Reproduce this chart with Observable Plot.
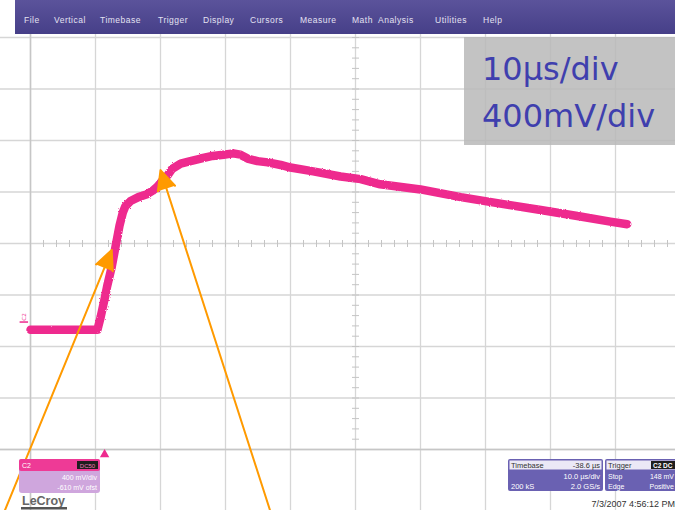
<!DOCTYPE html>
<html>
<head>
<meta charset="utf-8">
<script src="https://cdn.jsdelivr.net/npm/d3@7"></script>
<script src="https://cdn.jsdelivr.net/npm/@observablehq/plot@0.6"></script>
<style>
  html, body { margin: 0; padding: 0; background: #fff; }
  #scope { width: 675px; height: 510px; overflow: hidden; }
  #scope svg { display: block; }
</style>
</head>
<body>
<div id="scope"></div>
<script>
// Channel C2 acquisition settings
const VOLTS_PER_DIV = 0.4;   // V / division
const US_PER_DIV = 10;       // µs / division
const CENTER_V = 0.61;       // screen centre, volts above ground
const TRIGGER_US = 11.4;     // trigger position, µs from left of screen

// Captured waveform (time from left edge of screen in µs, volts above ground)
const timeUs = [0, 4.6, 10.3, 10.8, 11.4, 11.8, 12.5, 13.1, 13.7, 14.2, 14.6, 15.4, 16.6, 17.8,
  18.8, 19.5, 20.3, 21.1, 21.8, 23.1, 24.6, 26.2, 28.0, 29.7, 31.2, 32.3, 33.4, 34.9, 36.5,
  38.5, 40.0, 43.5, 47.7, 50.8, 53.8, 60.0, 66.2, 72.3, 78.5, 84.6, 89.2, 91.8];
const volts = [-0.06, -0.06, -0.06, 0.04, 0.18, 0.28, 0.43, 0.59, 0.75, 0.85, 0.90, 0.94, 0.97, 0.99,
  1.02, 1.05, 1.10, 1.14, 1.19, 1.23, 1.25, 1.27, 1.29, 1.30, 1.31, 1.30, 1.27, 1.25, 1.24,
  1.22, 1.20, 1.17, 1.13, 1.11, 1.07, 1.03, 0.97, 0.92, 0.87, 0.82, 0.78, 0.76];

// Annotation arrows pointing at the two corners of the rising edge
const arrowFromUs = [-4.0, 36.9];
const arrowFromV = [-1.47, -1.47];
const arrowToUs = [12.5, 20.0];
const arrowToV = [0.56, 1.18];

// Screen text
const menuItems = ["File", "Vertical", "Timebase", "Trigger", "Display", "Cursors", "Measure", "Math", "Analysis", "Utilities", "Help"];
const menuX = [24, 54, 100, 158, 203, 250, 300, 352, 378, 435, 483];
const scaleLabels = ["10\u03bcs/div", "400mV/div"];

const trace = timeUs.map((t, i) => ({t, v: volts[i]}));
const arrows = arrowFromUs.map((t, i) => ({t1: t, v1: arrowFromV[i], t2: arrowToUs[i], v2: arrowToV[i]}));

// Graticule: 10 x 8 divisions, minor ticks every 1/5 division on the centre lines
const xDiv = d3.range(0, 11).map(k => k * US_PER_DIV);
const yDiv = d3.range(-4, 5).map(k => CENTER_V + k * VOLTS_PER_DIV);
const xMinor = d3.range(0, 50.5).map(k => k * US_PER_DIV / 5);
const yMinor = d3.range(-20, 20.5).map(k => CENTER_V + k * VOLTS_PER_DIV / 5);
const vTick = {draw(ctx) { ctx.moveTo(0, -3.5); ctx.lineTo(0, 3.5); }};
const hTick = {draw(ctx) { ctx.moveTo(-3.5, 0); ctx.lineTo(3.5, 0); }};

const PINK = "#ee2a8e";
const ORANGE = "#ff9a00";

const chart = Plot.plot({
  width: 675,
  height: 510,
  margin: 0,
  style: {background: "#fff", overflow: "hidden"},
  x: {domain: [0, 10 * US_PER_DIV], range: [30, 680], axis: null},
  y: {domain: [CENTER_V - 4 * VOLTS_PER_DIV, CENTER_V + 4 * VOLTS_PER_DIV], range: [449, 37], axis: null},
  marks: [
    Plot.ruleX(xDiv, {stroke: "#d6d6d6", strokeWidth: 1.3}),
    Plot.ruleY(yDiv, {stroke: "#d6d6d6", strokeWidth: 1.3}),
    Plot.ruleX([0], {stroke: "#c6c6c6", strokeWidth: 1.5}),
    Plot.ruleY([CENTER_V - 4 * VOLTS_PER_DIV], {stroke: "#c6c6c6", strokeWidth: 1.5}),
    Plot.dot(xMinor, {x: d => d, y: CENTER_V, symbol: vTick, stroke: "#c4c4c4", strokeWidth: 1}),
    Plot.dot(yMinor, {x: 5 * US_PER_DIV, y: d => d, symbol: hTick, stroke: "#c4c4c4", strokeWidth: 1}),
    Plot.line(trace, {x: "t", y: "v", stroke: PINK, strokeWidth: 8.5, strokeLinejoin: "round", className: "trace"}),
    // ground reference marker
    Plot.ruleY([0], {x1: -1.6, x2: -0.3, stroke: PINK, strokeWidth: 1.5}),
    Plot.text(["C2"], {x: -1.0, y: 0, text: d => d, rotate: -90, dy: -5, fontSize: 6, fill: PINK}),
    // trigger position marker
    Plot.dot([TRIGGER_US], {x: d => d, y: CENTER_V - 4 * VOLTS_PER_DIV, dy: 5, symbol: "triangle", r: 3.5, fill: PINK}),
    Plot.arrow(arrows, {x1: "t1", y1: "v1", x2: "t2", y2: "v2", stroke: ORANGE, fill: ORANGE,
      strokeWidth: 2, headLength: 16, headAngle: 50})
  ]
});

document.getElementById("scope").appendChild(chart);

// Instrument chrome drawn over the graticule
const svg = d3.select(chart);
const defs = svg.append("defs");
const grad = defs.append("linearGradient").attr("id", "menuGrad").attr("x1", 0).attr("y1", 0).attr("x2", 0).attr("y2", 1);
grad.append("stop").attr("offset", "0%").attr("stop-color", "#5b539b");
grad.append("stop").attr("offset", "100%").attr("stop-color", "#463f88");

// slightly ragged edges on the persistence trace
const rough = defs.append("filter").attr("id", "rough").attr("x", "-5%").attr("y", "-5%").attr("width", "110%").attr("height", "110%");
rough.append("feTurbulence").attr("type", "fractalNoise").attr("baseFrequency", 0.9).attr("numOctaves", 1).attr("seed", 3).attr("result", "n");
rough.append("feDisplacementMap").attr("in", "SourceGraphic").attr("in2", "n").attr("scale", 2.5);
svg.select(".trace").attr("filter", "url(#rough)");

const ui = svg.append("g")
  .attr("font-family", "'Liberation Sans', Arial, sans-serif")
  .attr("text-anchor", "start");

// menu bar
ui.append("rect").attr("x", 15).attr("y", 0).attr("width", 660).attr("height", 34).attr("fill", "url(#menuGrad)");
ui.selectAll(".menu").data(menuItems).join("text")
  .attr("x", (d, i) => menuX[i]).attr("y", 23)
  .attr("font-size", 8.5).attr("letter-spacing", 0.5).attr("fill", "#e4e2f2")
  .text(d => d);

// scale settings box
ui.append("rect").attr("x", 464).attr("y", 37).attr("width", 211).attr("height", 108)
  .attr("fill", "rgb(185,185,185)").attr("fill-opacity", 0.85);
ui.selectAll(".scale").data(scaleLabels).join("text")
  .attr("x", 482).attr("y", (d, i) => 80 + i * 47)
  .attr("font-family", "'DejaVu Sans', sans-serif").attr("font-size", 32).attr("fill", "#3f3fae")
  .text(d => d);

// channel descriptor
const ch = ui.append("g");
ch.append("rect").attr("x", 19).attr("y", 459).attr("width", 81).attr("height", 34).attr("rx", 3).attr("fill", "#cfa6dd");
ch.append("rect").attr("x", 19).attr("y", 459).attr("width", 81).attr("height", 12).attr("rx", 2).attr("fill", "#ee3a96");
ch.append("text").attr("x", 22).attr("y", 468).attr("font-size", 7).attr("fill", "#fff").text("C2");
ch.append("rect").attr("x", 77).attr("y", 461).attr("width", 21).attr("height", 8).attr("fill", "#1e1e1e");
ch.append("text").attr("x", 87.5).attr("y", 467.5).attr("font-size", 6).attr("text-anchor", "middle").attr("fill", "#f07ab8").text("DC50");
ch.append("text").attr("x", 97).attr("y", 480).attr("font-size", 7).attr("text-anchor", "end").attr("fill", "#fff").text("400 mV/div");
ch.append("text").attr("x", 97).attr("y", 490).attr("font-size", 7).attr("text-anchor", "end").attr("fill", "#fff").text("-610 mV ofst");

// maker's name
ui.append("text").attr("x", 22).attr("y", 505).attr("font-size", 12.5).attr("font-weight", "bold")
  .attr("fill", "#666").text("LeCroy");
ui.append("rect").attr("x", 21).attr("y", 507).attr("width", 46).attr("height", 2.5).attr("fill", "#555");

// timebase descriptor
const tb = ui.append("g").attr("font-size", 7.5);
tb.append("rect").attr("x", 508).attr("y", 459).attr("width", 95).attr("height", 32).attr("rx", 2).attr("fill", "#6a61b2");
tb.append("rect").attr("x", 509.5).attr("y", 460.5).attr("width", 92).attr("height", 9).attr("fill", "#ebe8f6");
tb.append("text").attr("x", 511).attr("y", 468).attr("fill", "#333").text("Timebase");
tb.append("text").attr("x", 600).attr("y", 468).attr("text-anchor", "end").attr("fill", "#333").text("-38.6 \u00b5s");
tb.append("text").attr("x", 600).attr("y", 478.5).attr("text-anchor", "end").attr("fill", "#fff").text("10.0 \u00b5s/div");
tb.append("text").attr("x", 511).attr("y", 488.5).attr("fill", "#fff").text("200 kS");
tb.append("text").attr("x", 600).attr("y", 488.5).attr("text-anchor", "end").attr("fill", "#fff").text("2.0 GS/s");

// trigger descriptor
const tr = ui.append("g").attr("font-size", 7);
tr.append("rect").attr("x", 605).attr("y", 459).attr("width", 80).attr("height", 32).attr("rx", 2).attr("fill", "#6a61b2");
tr.append("rect").attr("x", 606.5).attr("y", 460.5).attr("width", 77).attr("height", 9).attr("fill", "#ebe8f6");
tr.append("text").attr("x", 608).attr("y", 468).attr("font-size", 7.5).attr("fill", "#333").text("Trigger");
tr.append("rect").attr("x", 651).attr("y", 461).attr("width", 30).attr("height", 8).attr("fill", "#1e1e1e");
tr.append("text").attr("x", 653).attr("y", 467.5).attr("font-size", 6.5).attr("font-weight", "bold").attr("fill", "#fff").text("C2 DC");
tr.append("text").attr("x", 608).attr("y", 478.5).attr("fill", "#fff").text("Stop");
tr.append("text").attr("x", 674).attr("y", 478.5).attr("text-anchor", "end").attr("fill", "#fff").text("148 mV");
tr.append("text").attr("x", 608).attr("y", 488.5).attr("fill", "#fff").text("Edge");
tr.append("text").attr("x", 674).attr("y", 488.5).attr("text-anchor", "end").attr("fill", "#fff").text("Positive");

// time stamp
ui.append("text").attr("x", 675).attr("y", 507).attr("font-size", 9).attr("text-anchor", "end")
  .attr("fill", "#333").text("7/3/2007 4:56:12 PM");
</script>
</body>
</html>
